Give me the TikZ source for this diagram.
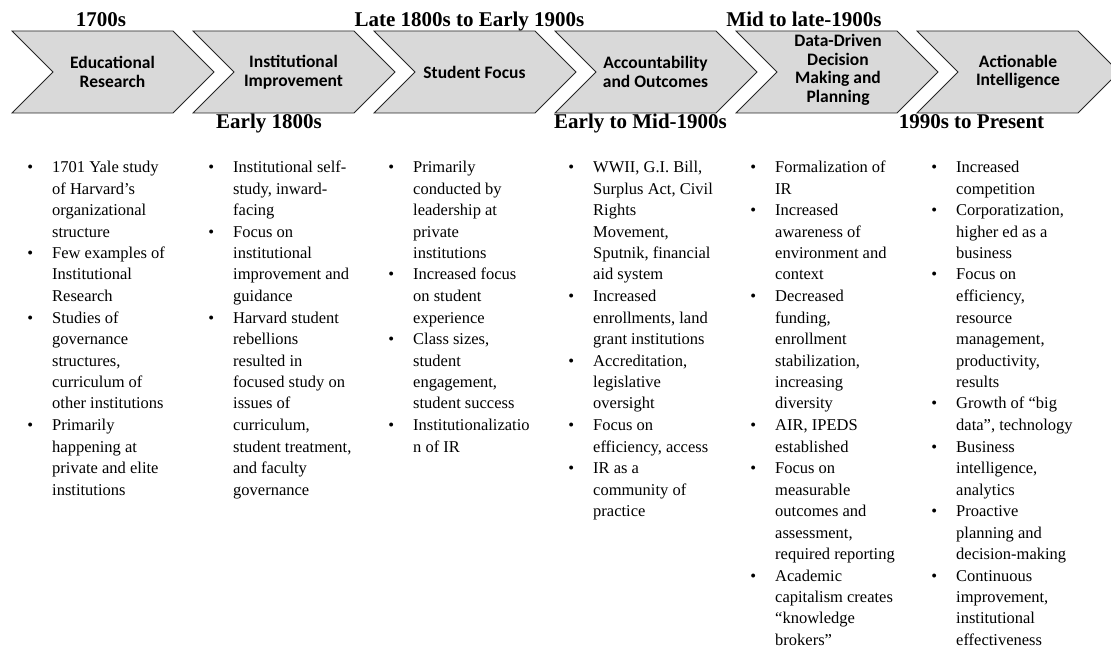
\documentclass[tikz,border=0pt]{standalone}
\usepackage{fontspec}
\setmainfont{Liberation Serif}
\newfontfamily\chevfont{Carlito}
\definecolor{chevgray}{RGB}{217,217,217}
\newcommand\bul{\leavevmode\llap{\textbullet\hspace{19pt}}}
\newcommand\itembox[1]{\parbox[t]{172pt}{\raggedright #1}}
\tikzset{
chev/.style={fill=chevgray, draw=black!85, line width=0.8pt, line join=miter},
chevtext/.style={font=\chevfont\bfseries\fontsize{17.5}{18.5}\selectfont, align=center, inner sep=0pt},
era/.style={font=\bfseries\fontsize{21}{24}\selectfont, anchor=base, inner sep=0pt},
items/.style={font=\fontsize{16.5}{21.5}\selectfont, anchor=base west, inner sep=0pt}
}
\begin{document}
\begin{tikzpicture}[x=1pt,y=-1pt]
\clip (0,0) rectangle (1111,650);
\foreach \i in {0,...,5}
{
\draw[chev] ({12+181*\i},31) -- ++(161,0) -- ++(41,41) -- ++(-41,41) -- ++(-161,0) -- ++(41,-41) -- cycle;
}
\node[chevtext] (edu) at (112.5,72) {Educational\\Research};
\node[chevtext] (inst) at (293.5,72) {Institutional\\Improvement};
\node[chevtext] (stud) at (474.5,72) {Student Focus};
\node[chevtext] (acc) at (655.5,72) {Accountability\\and Outcomes};
\node[chevtext] (data) at (838,70) {Data-Driven\\Decision\\Making and\\Planning};
\node[chevtext] (act) at (1018,72) {Actionable\\Intelligence};
\node[era] (e1700) at (101,26.5) {1700s};
\node[era] (elate) at (469.5,26.5) {Late 1800s to Early 1900s};
\node[era] (emid) at (804,26.5) {Mid to late-1900s};
\node[era] (eearly) at (269,128.5) {Early 1800s};
\node[era] (eearlymid) at (640.5,128.5) {Early to Mid-1900s};
\node[era] (e1990) at (971.5,128.5) {1990s to Present};
\node[items] (edulist) at (52,172.5) {\itembox{%
\bul 1701 Yale study\\ of Harvard's\\ organizational\\ structure\\
\bul Few examples of\\ Institutional\\ Research\\
\bul Studies of\\ governance\\ structures,\\ curriculum of\\ other institutions\\
\bul Primarily\\ happening at\\ private and elite\\ institutions}};
\node[items] (instlist) at (233,172.5) {\itembox{%
\bul Institutional self-\\ study, inward-\\ facing\\
\bul Focus on\\ institutional\\ improvement and\\ guidance\\
\bul Harvard student\\ rebellions\\ resulted in\\ focused study on\\ issues of\\ curriculum,\\ student treatment,\\ and faculty\\ governance}};
\node[items] (studlist) at (413,172.5) {\itembox{%
\bul Primarily\\ conducted by\\ leadership at\\ private\\ institutions\\
\bul Increased focus\\ on student\\ experience\\
\bul Class sizes,\\ student\\ engagement,\\ student success\\
\bul Institutionalizatio\\ n of IR}};
\node[items] (acclist) at (593,172.5) {\itembox{%
\bul WWII, G.I. Bill,\\ Surplus Act, Civil\\ Rights\\ Movement,\\ Sputnik, financial\\ aid system\\
\bul Increased\\ enrollments, land\\ grant institutions\\
\bul Accreditation,\\ legislative\\ oversight\\
\bul Focus on\\ efficiency, access\\
\bul IR as a\\ community of\\ practice}};
\node[items] (datalist) at (775,172.5) {\itembox{%
\bul Formalization of\\ IR\\
\bul Increased\\ awareness of\\ environment and\\ context\\
\bul Decreased\\ funding,\\ enrollment\\ stabilization,\\ increasing\\ diversity\\
\bul AIR, IPEDS\\ established\\
\bul Focus on\\ measurable\\ outcomes and\\ assessment,\\ required reporting\\
\bul Academic\\ capitalism creates\\ ``knowledge\\ brokers''}};
\node[items] (actlist) at (956,172.5) {\itembox{%
\bul Increased\\ competition\\
\bul Corporatization,\\ higher ed as a\\ business\\
\bul Focus on\\ efficiency,\\ resource\\ management,\\ productivity,\\ results\\
\bul Growth of ``big\\ data'', technology\\
\bul Business\\ intelligence,\\ analytics\\
\bul Proactive\\ planning and\\ decision-making\\
\bul Continuous\\ improvement,\\ institutional\\ effectiveness}};
\end{tikzpicture}
\end{document}
